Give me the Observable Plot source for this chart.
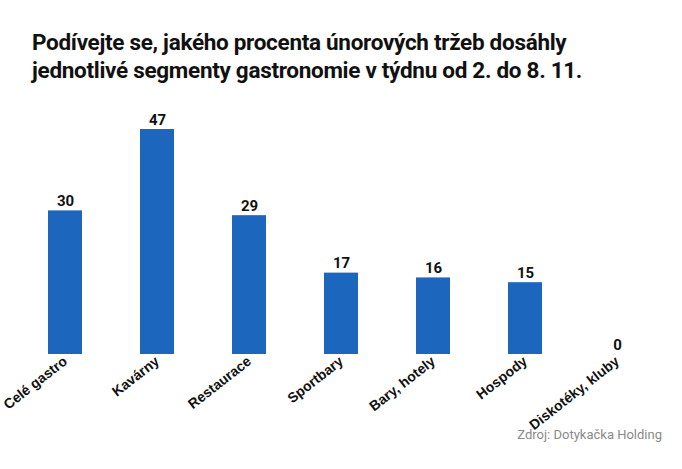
<!DOCTYPE html>
<html><head><meta charset="utf-8">
<script src="https://cdn.jsdelivr.net/npm/d3@7"></script>
<script src="https://cdn.jsdelivr.net/npm/@observablehq/plot@0.6"></script>
<style>
body{margin:0;background:#fff;width:682px;height:469px;overflow:hidden;position:relative;}
#title{position:absolute;left:32px;top:28px;font-family:Roboto,sans-serif;font-weight:700;font-size:22.5px;line-height:28px;color:#111;letter-spacing:-0.3px;}
#chart{position:absolute;left:0;top:100px;}
#src{position:absolute;right:20px;top:427px;font-family:Roboto,sans-serif;font-size:13px;color:#8a8a8a;}
</style></head>
<body>
<div id="title">Podívejte se, jakého procenta únorových tržeb dosáhly<br>jednotlivé segmenty gastronomie v týdnu od 2. do 8. 11.</div>
<div id="chart"></div>
<div id="src">Zdroj: Dotykačka Holding</div>
<script>
const categories = ["Celé gastro","Kavárny","Restaurace","Sportbary","Bary, hotely","Hospody","Diskotéky, kluby"];
const values = [30,47,29,17,16,15,0];
const data = categories.map((c,i)=>({category:c,value:values[i]}));
const chart = Plot.plot({
  width:682, height:369,
  marginLeft:19, marginRight:19, marginTop:29, marginBottom:115,
  x:{domain:categories, paddingInner:0.63, paddingOuter:0.315, label:null},
  y:{domain:[0,47], axis:null},
  marks:[
    Plot.barY(data,{x:"category",y:"value",fill:"#1c66be"}),
    Plot.text(data,{x:"category",y:"value",text:d=>String(d.value),dy:-5,lineAnchor:"bottom",fontWeight:700,fontSize:15,fill:"#111",fontFamily:"Roboto"}),
    Plot.axisX({tickSize:0,tickPadding:5,tickRotate:-38,fontSize:14,fontWeight:700,fontFamily:"Liberation Sans, Arial",color:"#111",label:null})
  ]
});
document.getElementById("chart").appendChild(chart);
</script>
</body></html>
